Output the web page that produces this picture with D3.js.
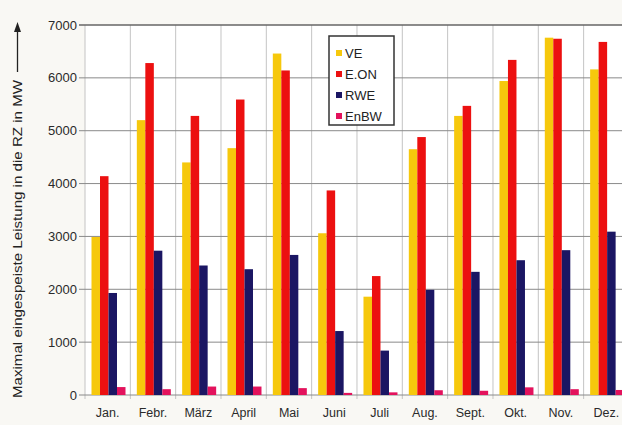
<!DOCTYPE html>
<html><head><meta charset="utf-8">
<script src="https://cdn.jsdelivr.net/npm/d3@7"></script>
<style>
html,body{margin:0;padding:0;background:#f9f8f4;}
svg{display:block;font-family:"Liberation Sans",Arial,sans-serif;}
</style></head>
<body><svg id="c" width="622" height="425"></svg>
<script>
const months = ["Jan.","Febr.","März","April","Mai","Juni","Juli","Aug.","Sept.","Okt.","Nov.","Dez."];
const seriesNames = ["VE","E.ON","RWE","EnBW"];
const VE   = [2990,5200,4400,4670,6460,3060,1860,4650,5280,5940,6760,6160];
const EON  = [4140,6280,5280,5590,6140,3870,2250,4880,5470,6340,6740,6680];
const RWE  = [1930,2730,2450,2380,2650,1210,840,1990,2330,2550,2740,3090];
const EnBW = [150,110,160,160,130,40,50,90,80,145,110,95];
const yTicks = [0,1000,2000,3000,4000,5000,6000,7000];
const colors = ["#f6c80c","#ec1010","#1b1663","#e3125c"];
const yLabel = "Maximal eingespeiste Leistung in die RZ in MW";

(function(){
const values = [VE, EON, RWE, EnBW];
const svg = d3.select("#c");
const pl = 85, pt = 25, pb = 395, step = 45.33;
const x = d3.scaleBand().domain(months).range([pl, pl + step*12]).padding(0);
const xs = d3.scaleBand().domain(seriesNames).range([6.5, 40.5]).padding(0);
const y = d3.scaleLinear().domain([0,7000]).range([pb, pt]);

svg.append("rect").attr("x", pl).attr("y", pt).attr("width", step*12).attr("height", pb-pt).attr("fill","#ffffff");

svg.append("g").selectAll("line").data(months).join("line")
  .attr("x1", d=>x(d)).attr("x2", d=>x(d)).attr("y1", pt).attr("y2", pb+4)
  .attr("stroke","#c4c4c4").attr("stroke-width",1);

svg.append("g").selectAll("line").data(yTicks).join("line")
  .attr("x1", pl-6).attr("x2", pl + step*12).attr("y1", d=>y(d)).attr("y2", d=>y(d))
  .attr("stroke", d=> d===7000 ? "#666" : "#8a8a8a").attr("stroke-width", d=> d===7000 ? 1.5 : 1);

svg.append("g").selectAll("text").data(yTicks).join("text")
  .attr("x", 77).attr("y", d=>y(d)).attr("dy","0.35em").attr("text-anchor","end")
  .attr("font-size",13).attr("fill","#2a2a2a").text(d=>d);

const g = svg.append("g");
months.forEach((m,i)=>{
  seriesNames.forEach((s,j)=>{
    g.append("rect")
      .attr("x", x(m)+xs(s)).attr("width", xs.bandwidth())
      .attr("y", y(values[j][i])).attr("height", y(0)-y(values[j][i]))
      .attr("fill", colors[j]);
  });
});

svg.append("g").selectAll("text").data(months).join("text")
  .attr("x", d=>x(d)+x.bandwidth()/2).attr("y", 417).attr("text-anchor","middle")
  .attr("font-size",12.5).attr("fill","#2a2a2a").text(d=>d);

const yl = svg.append("g").attr("transform","translate(22,398) rotate(-90)");
yl.append("text").attr("x",0).attr("y",0).attr("font-size",12.5).attr("fill","#222")
  .attr("textLength",318).attr("lengthAdjust","spacingAndGlyphs").text(yLabel);
yl.append("line").attr("x1",326).attr("x2",368).attr("y1",-4.5).attr("y2",-4.5).attr("stroke","#222").attr("stroke-width",1.3);
yl.append("path").attr("d","M376,-4.5 L366,-8 L366,-1 Z").attr("fill","#222");

const lg = svg.append("g");
lg.append("rect").attr("x",329).attr("y",36).attr("width",65).attr("height",89)
  .attr("fill","#fff").attr("stroke","#333").attr("stroke-width",1.5);
seriesNames.forEach((s,j)=>{
  const yy = 53 + j*21;
  lg.append("rect").attr("x",336).attr("y",yy-3).attr("width",6).attr("height",6).attr("fill",colors[j]);
  lg.append("text").attr("x",345).attr("y",yy).attr("dy","0.35em").attr("font-size",13).attr("fill","#222").text(s);
});
})();
</script></body></html>
